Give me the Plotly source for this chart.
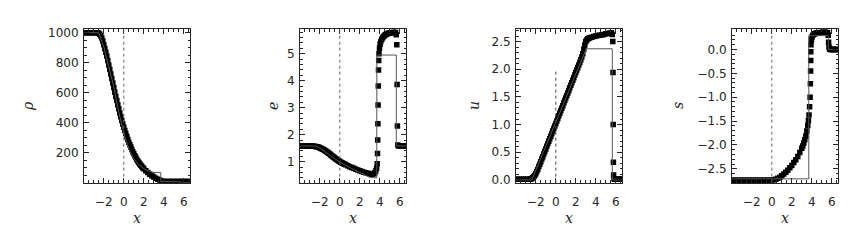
import plotly.graph_objects as go

# ---------------- data ----------------
# simulation points (x, value)
rho_sim = [(-4.0,1000),(-3.8,1000),(-3.6,1000),(-3.4,1000),(-3.2,1000),(-3.0,1000),(-2.8,1000),(-2.6,1000),
           (-2.5,997),(-2.4,990),(-2.3,980),(-2.2,965),(-2.1,945),(-2.0,920),(-1.9,895),(-1.8,870),(-1.7,845),
           (-1.6,815),(-1.5,785),(-1.4,755),(-1.3,725),(-1.2,695),(-1.1,665),(-1.0,635),(-0.9,603),(-0.8,575),
           (-0.7,548),(-0.6,520),(-0.5,493),(-0.4,466),(-0.3,440),(-0.2,415),(-0.1,392),(0.0,370),(0.1,348),
           (0.2,328),(0.3,308),(0.4,289),(0.5,271),(0.6,254),(0.7,238),(0.8,222),(0.9,207),(1.0,193),(1.1,180),
           (1.2,168),(1.3,156),(1.4,145),(1.5,135),(1.6,126),(1.7,117),(1.8,109),(1.9,101),(2.0,93),(2.2,80),
           (2.4,68),(2.6,57),(2.8,47),(3.0,38),(3.2,30),(3.4,23),(3.6,17),(3.8,12),(4.0,9),(4.2,8),(4.4,8),
           (4.6,8),(4.8,8),(5.0,8),(5.2,8),(5.4,8),(5.6,8),(5.8,8),(6.0,8),(6.2,8),(6.4,8),(6.6,8)]
e_sim = [(-4.0,1.58),(-3.8,1.58),(-3.6,1.58),(-3.4,1.58),(-3.2,1.58),(-3.0,1.58),(-2.8,1.58),(-2.6,1.575),
         (-2.4,1.565),(-2.3,1.555),(-2.2,1.545),(-2.1,1.53),(-2.0,1.515),(-1.9,1.50),(-1.8,1.48),(-1.7,1.46),
         (-1.6,1.44),(-1.5,1.415),(-1.4,1.39),(-1.3,1.365),(-1.2,1.34),(-1.1,1.31),(-1.0,1.28),(-0.9,1.25),
         (-0.8,1.22),(-0.7,1.19),(-0.6,1.16),(-0.5,1.13),(-0.4,1.10),(-0.3,1.075),(-0.2,1.05),(-0.1,1.025),
         (0.0,1.00),(0.1,0.98),(0.2,0.96),(0.3,0.94),(0.4,0.92),(0.5,0.90),(0.6,0.88),(0.8,0.85),(1.0,0.81),
         (1.2,0.78),(1.4,0.75),(1.6,0.72),(1.8,0.69),(2.0,0.66),(2.2,0.63),(2.4,0.61),(2.6,0.59),(2.8,0.57),
         (3.0,0.55),(3.1,0.545),(3.2,0.54),(3.3,0.545),(3.4,0.56),(3.5,0.59),(3.6,0.65),(3.68,0.75),
         (3.74,0.92),(3.77,1.3),(3.79,1.8),(3.81,2.4),(3.83,3.1),(3.85,3.8),(3.87,4.4),(3.89,4.75),
         (3.92,5.0),(3.97,5.2),(4.03,5.35),(4.1,5.45),(4.2,5.54),(4.3,5.6),(4.4,5.65),(4.5,5.68),(4.6,5.71),
         (4.7,5.73),(4.8,5.75),(4.9,5.76),(5.0,5.77),(5.1,5.78),(5.2,5.79),(5.3,5.79),(5.4,5.8),(5.5,5.8),
         (5.58,5.79),(5.64,5.7),(5.7,5.33),(5.73,3.86),(5.76,2.32),(5.8,1.62),(5.9,1.58),(6.0,1.58),
         (6.1,1.58),(6.2,1.58),(6.3,1.58),(6.4,1.58),(6.5,1.58),(6.6,1.58)]
u_sim = [(-4.0,0.01),(-3.8,0.01),(-3.6,0.01),(-3.4,0.01),(-3.2,0.01),(-3.0,0.01),(-2.8,0.01),(-2.6,0.01),
         (-2.5,0.015),(-2.4,0.025),(-2.3,0.04),(-2.2,0.06),(-2.1,0.08),(-2.0,0.11),(-1.9,0.15),(-1.8,0.19),
         (-1.7,0.24),(-1.6,0.285),(-1.5,0.33),(-1.4,0.376),(-1.3,0.42),(-1.2,0.468),(-1.1,0.514),(-1.0,0.56),
         (-0.9,0.606),(-0.8,0.652),(-0.7,0.698),(-0.6,0.744),(-0.5,0.79),(-0.4,0.836),(-0.3,0.882),
         (-0.2,0.928),(-0.1,0.974),(0.0,1.02),(0.1,1.066),(0.2,1.112),(0.3,1.158),(0.4,1.204),(0.5,1.25),
         (0.6,1.296),(0.7,1.342),(0.8,1.388),(0.9,1.434),(1.0,1.48),(1.1,1.526),(1.2,1.572),(1.3,1.618),
         (1.4,1.664),(1.5,1.71),(1.6,1.756),(1.7,1.802),(1.8,1.848),(1.9,1.894),(2.0,1.94),(2.1,1.986),
         (2.2,2.032),(2.3,2.078),(2.4,2.124),(2.5,2.17),(2.6,2.22),(2.7,2.28),(2.8,2.36),(2.9,2.44),
         (3.0,2.5),(3.1,2.53),(3.2,2.55),(3.3,2.56),(3.4,2.57),(3.6,2.58),(3.8,2.59),(4.0,2.6),(4.2,2.61),
         (4.4,2.615),(4.6,2.62),(4.8,2.63),(5.0,2.64),(5.2,2.645),(5.4,2.65),(5.55,2.66),(5.64,2.63),
         (5.7,2.5),(5.72,1.94),(5.74,1.0),(5.76,0.32),(5.78,0.09),(5.82,0.02),(5.9,0.01),(6.0,0.01),
         (6.1,0.01),(6.2,0.01),(6.3,0.01),(6.4,0.01),(6.5,0.01),(6.6,0.01)]
s_sim = [(-4.0,-2.74),(-3.8,-2.74),(-3.6,-2.74),(-3.4,-2.74),(-3.2,-2.74),(-3.0,-2.74),(-2.8,-2.74),
         (-2.6,-2.74),(-2.4,-2.74),(-2.2,-2.74),(-2.0,-2.74),(-1.8,-2.74),(-1.6,-2.74),(-1.4,-2.74),
         (-1.2,-2.74),(-1.0,-2.74),(-0.8,-2.74),(-0.6,-2.74),(-0.4,-2.74),(-0.2,-2.74),(0.0,-2.74),
         (0.2,-2.735),(0.4,-2.72),(0.6,-2.70),(0.8,-2.675),(1.0,-2.645),(1.2,-2.61),(1.4,-2.57),(1.6,-2.53),
         (1.8,-2.48),(2.0,-2.43),(2.2,-2.37),(2.4,-2.31),(2.6,-2.24),(2.8,-2.16),(3.0,-2.07),(3.1,-2.02),
         (3.2,-1.96),(3.3,-1.89),(3.4,-1.81),(3.5,-1.71),(3.6,-1.59),(3.66,-1.49),(3.72,-1.37),(3.78,-1.2),
         (3.83,-1.0),(3.86,-0.72),(3.88,-0.45),(3.89,-0.23),(3.9,-0.05),(3.92,0.1),(3.96,0.2),(4.02,0.26),
         (4.1,0.3),(4.2,0.32),(4.3,0.33),(4.4,0.34),(4.5,0.345),(4.6,0.35),(4.7,0.35),(4.8,0.355),
         (4.9,0.355),(5.0,0.36),(5.1,0.36),(5.2,0.36),(5.3,0.36),(5.4,0.36),(5.5,0.36),(5.58,0.35),
         (5.64,0.3),(5.68,0.15),(5.72,0.05),(5.78,0.01),(5.85,0.0),(5.95,0.0),(6.05,0.0),(6.15,0.0),
         (6.25,0.0),(6.35,0.0),(6.45,0.0),(6.55,0.0)]

# analytic solution vertices (x, value)
rho_exact = [(-4.0,1000),(-2.5,1000),(-2.0,905),(-1.5,780),(-1.0,640),(-0.5,470),(0.0,330),(0.5,225),
             (1.0,160),(1.5,120),(2.0,95),(2.5,78),(3.0,68),(3.7,68),(3.7,8),(5.65,8),(5.65,1),(6.6,1)]
e_exact = [(-4.0,1.58),(-2.4,1.58),(-2.0,1.50),(-1.5,1.38),(-1.0,1.25),(-0.5,1.11),(0.0,0.98),(0.5,0.87),
           (1.0,0.77),(1.5,0.68),(2.0,0.59),(2.5,0.50),(3.05,0.41),(3.7,0.40),(3.7,4.95),(5.65,4.95),
           (5.65,1.58),(6.6,1.58)]
u_exact = [(-4.0,0.0),(-2.4,0.0),(3.05,2.37),(5.65,2.37),(5.65,0.0),(6.6,0.0)]
s_exact = [(-4.0,-2.71),(3.7,-2.71),(3.7,0.29),(5.65,0.29),(5.65,0.0),(6.6,0.0)]

x_ticks = [-2, 0, 2, 4, 6]
y_labels = ["\u03c1", "e", "u", "s"]
x_label = "x"

# ---------------- figure ----------------
# page body has an 8px margin; positions below are reference pixels, shifted by OFF
OFF = 8
W, H = 863 - OFF, 240 - OFF
lefts = [84, 300, 516, 732]
pw = 106
top_px, bot_px = 27, 185


def px(xp):
    return (xp - OFF) / W


def py(yp):
    return (H - (yp - OFF)) / H


ydom = [py(bot_px), py(top_px)]

panels = [
    dict(sim=rho_sim, ex=rho_exact, yr=[1, 1022], dt=200, mdt=50, fmt="d"),
    dict(sim=e_sim, ex=e_exact, yr=[0.22, 5.9], dt=1, mdt=0.2, fmt="d"),
    dict(sim=u_sim, ex=u_exact, yr=[-0.05, 2.72], dt=0.5, mdt=0.1, fmt=".1f"),
    dict(sim=s_sim, ex=s_exact, yr=[-2.79, 0.42], dt=0.5, mdt=0.1, fmt=".1f"),
]

fig = go.Figure()
ink = "#262626"
tickfont = dict(family="DejaVu Sans", size=12, color=ink)

for i, p in enumerate(panels):
    n = "" if i == 0 else str(i + 1)
    xa, ya = "x" + n, "y" + n
    sx, sy = zip(*p["sim"])
    ex, ey = zip(*p["ex"])
    fig.add_trace(go.Scatter(x=sx, y=sy, xaxis=xa, yaxis=ya, mode="markers",
                             marker=dict(symbol="square", size=5.5, color="black", line=dict(width=0)),
                             showlegend=False, hoverinfo="skip"))
    fig.add_trace(go.Scatter(x=ex, y=ey, xaxis=xa, yaxis=ya, mode="lines",
                             line=dict(color="#555", width=1), showlegend=False, hoverinfo="skip"))
    common = dict(showline=True, linecolor=ink, linewidth=1, mirror="allticks", ticks="inside",
                  ticklen=5, tickwidth=1, tickcolor=ink, showgrid=False, zeroline=False,
                  tickfont=tickfont)
    fig.layout["xaxis" + n] = dict(domain=[px(lefts[i]), px(lefts[i] + pw)], range=[-3.98, 6.62],
                                   tickmode="array", tickvals=x_ticks,
                                   anchor=ya, ticklabelstandoff=8,
                                   minor=dict(ticks="inside", ticklen=2.5, tickcolor=ink,
                                              tickmode="linear", tick0=0, dtick=0.5, showgrid=False),
                                   **common)
    fig.layout["yaxis" + n] = dict(domain=ydom, range=p["yr"], tick0=0, dtick=p["dt"],
                                   anchor=xa, tickformat=p["fmt"], ticklabelstandoff=2,
                                   minor=dict(ticks="inside", ticklen=2.5, tickcolor=ink, tick0=0,
                                              dtick=p["mdt"], showgrid=False),
                                   **common)
    # dotted reference line at x = 0
    if i == 2:
        fig.add_shape(type="line", xref=xa, yref=ya, x0=0, x1=0, y0=p["yr"][0], y1=2.0,
                      line=dict(color="#444", width=1, dash="dot"))
    else:
        fig.add_shape(type="line", xref=xa, yref=ya + " domain", x0=0, x1=0, y0=0, y1=1,
                      line=dict(color="#666", width=1, dash="dot"))
    # x-axis title
    fig.add_annotation(text="<i>" + x_label + "</i>", xref="paper", yref="paper",
                       x=px(lefts[i] + pw / 2), y=py(221), xanchor="center", yanchor="middle",
                       showarrow=False, font=dict(family="DejaVu Serif", size=14, color=ink))

ytitle_px = [28, 273, 474, 678]
for i, t in enumerate(y_labels):
    fig.add_annotation(text="<i>" + t + "</i>", xref="paper", yref="paper",
                       x=px(ytitle_px[i]), y=py(106), xanchor="center", yanchor="middle",
                       showarrow=False, textangle=-90,
                       font=dict(family="DejaVu Serif", size=14, color=ink))

fig.update_layout(width=W, height=H, margin=dict(l=0, r=0, t=0, b=0),
                  paper_bgcolor="white", plot_bgcolor="white")
fig.write_html("out.html")
